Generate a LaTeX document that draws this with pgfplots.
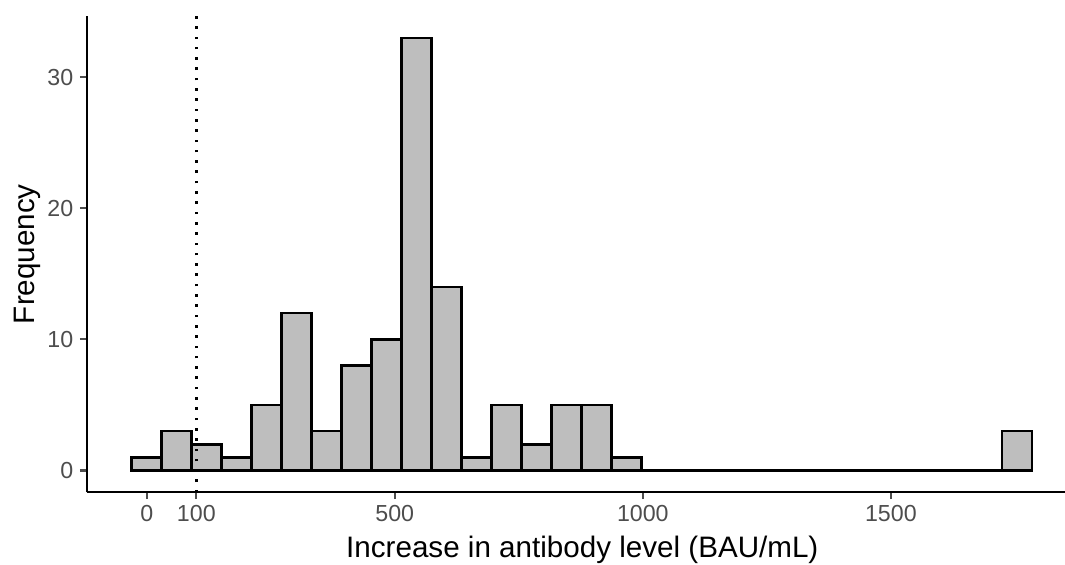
\documentclass[border=0pt]{standalone}
\usepackage{fontspec}
\setmainfont{Liberation Sans}
\usepackage{pgfplots}
\pgfplotsset{compat=1.18}
\definecolor{tickgray}{HTML}{4D4D4D}
\definecolor{barfill}{HTML}{BEBEBE}

% histogram: 30 bins of width 60.48, left edges
\pgfplotstableread{
x y
-30.24 1
30.24 3
90.72 2
151.20 1
211.68 5
272.16 12
332.64 3
393.12 8
453.60 10
514.08 33
574.56 14
635.04 1
695.52 5
756.00 2
816.48 5
876.96 5
937.44 1
997.92 0
1058.40 0
1118.88 0
1179.36 0
1239.84 0
1300.32 0
1360.80 0
1421.28 0
1481.76 0
1542.24 0
1602.72 0
1663.20 0
1723.68 3
1784.16 0
}\histdata

\begin{document}
\begin{tikzpicture}
\useasboundingbox (-43.35pt,-35.85pt) rectangle (489.15pt,246.15pt);
\begin{axis}[
  at={(0pt,0pt)}, anchor=south west,
  scale only axis,
  width=489.15pt, height=238.15pt,
  xmin=-121, xmax=1851,
  ymin=-1.67, ymax=34.68,
  axis x line=bottom, axis y line=left,
  axis line style={-, line width=1.1pt, black},
  xtick={0,100,500,1000,1500},
  ytick={0,10,20,30},
  tick align=outside,
  major tick length=3.35pt,
  tick style={line width=1.1pt, tickgray},
  ticklabel style={font=\fontsize{11.6}{13}\selectfont, text=tickgray, inner sep=0pt},
  /pgf/number format/assume math mode=true,
  /pgf/number format/1000 sep={},
  xticklabel style={anchor=base, yshift=-11.35pt},
  yticklabel style={anchor=east, xshift=-3.2pt},
  xlabel={Increase in antibody level (BAU/mL)},
  ylabel={Frequency},
  label style={font=\fontsize{14.8}{17}\selectfont, inner sep=0pt},
  xlabel style={at={(axis description cs:0.5066,0)}, anchor=base, yshift=-32.35pt},
  ylabel style={at={(axis description cs:-0.061,0.5)}, anchor=center},
]
\addplot[ybar interval, fill=barfill, draw=black, line width=1.3pt] table[x=x, y=y] {\histdata};
\addplot[black, line width=1.3pt, dash pattern=on 1.3pt off 3.85pt] coordinates {(100,-1.67) (100,34.68)};
\end{axis}
\end{tikzpicture}
\end{document}
